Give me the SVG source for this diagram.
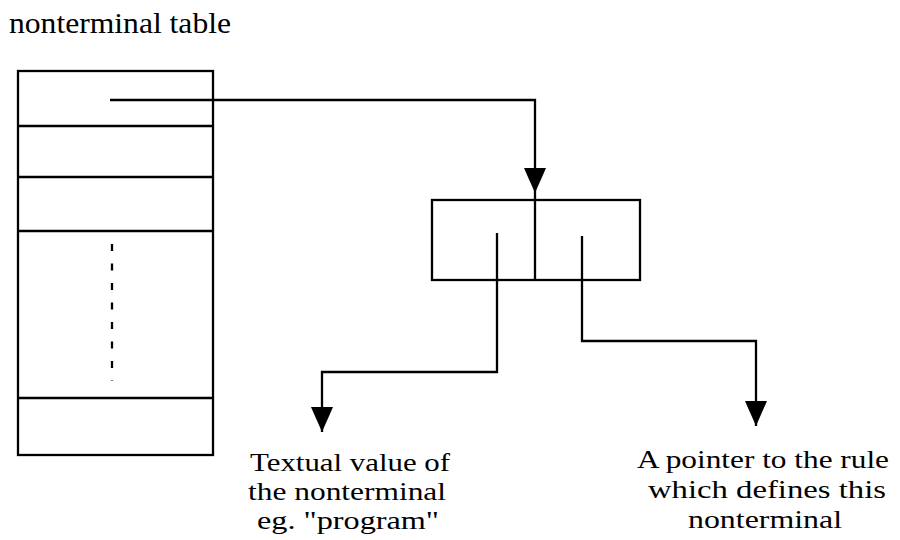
<svg xmlns="http://www.w3.org/2000/svg" width="900" height="540" viewBox="0 0 900 540">
  <style>
    .ln { fill: none; stroke: #000; stroke-width: 2.3; }
    .txt { font-family: "Liberation Serif", "Times New Roman", serif; font-size: 30px; fill: #000; }
    .lbl { font-size: 25px; }
    .mid { text-anchor: middle; }
  </style>
  <defs>
    <marker id="arr" viewBox="0 0 25 22" refX="25" refY="11" markerWidth="25" markerHeight="22" markerUnits="userSpaceOnUse" orient="auto">
      <path d="M0,0 L25,11 L0,22 Z" fill="#000"/>
    </marker>
  </defs>
  <rect width="900" height="540" fill="#fff"/>

  <text class="txt" x="9" y="33" textLength="222" lengthAdjust="spacingAndGlyphs">nonterminal table</text>

  <g id="table">
    <rect class="ln" x="18" y="71" width="195" height="384"/>
    <line class="ln" x1="18" y1="126" x2="213" y2="126"/>
    <line class="ln" x1="18" y1="177" x2="213" y2="177"/>
    <line class="ln" x1="18" y1="231" x2="213" y2="231"/>
    <line class="ln" x1="18" y1="398" x2="213" y2="398"/>
    <line class="ln" x1="112" y1="244" x2="112" y2="381" stroke-dasharray="7 12.5"/>
  </g>

  <g id="entry">
    <rect class="ln" x="432" y="200" width="208" height="80"/>
    <line class="ln" x1="535" y1="193" x2="535" y2="280"/>
  </g>

  <g id="connectors">
    <path class="ln" d="M110,100 H535 V193" marker-end="url(#arr)"/>
    <path class="ln" d="M497,233 V372 H322 V432" marker-end="url(#arr)"/>
    <path class="ln" d="M582,236 V341 H756 V426" marker-end="url(#arr)"/>
  </g>

  <g id="label-text">
    <text class="txt lbl mid" x="350" y="471" textLength="200" lengthAdjust="spacingAndGlyphs">Textual value of</text>
    <text class="txt lbl mid" x="347" y="500" textLength="198" lengthAdjust="spacingAndGlyphs">the nonterminal</text>
    <text class="txt lbl mid" x="348" y="529" textLength="182" lengthAdjust="spacingAndGlyphs">eg. "program"</text>
  </g>

  <g id="label-pointer">
    <text class="txt lbl mid" x="763" y="468" textLength="252" lengthAdjust="spacingAndGlyphs">A pointer to the rule</text>
    <text class="txt lbl mid" x="767" y="498" textLength="238" lengthAdjust="spacingAndGlyphs">which defines this</text>
    <text class="txt lbl mid" x="765" y="528" textLength="154" lengthAdjust="spacingAndGlyphs">nonterminal</text>
  </g>
</svg>
